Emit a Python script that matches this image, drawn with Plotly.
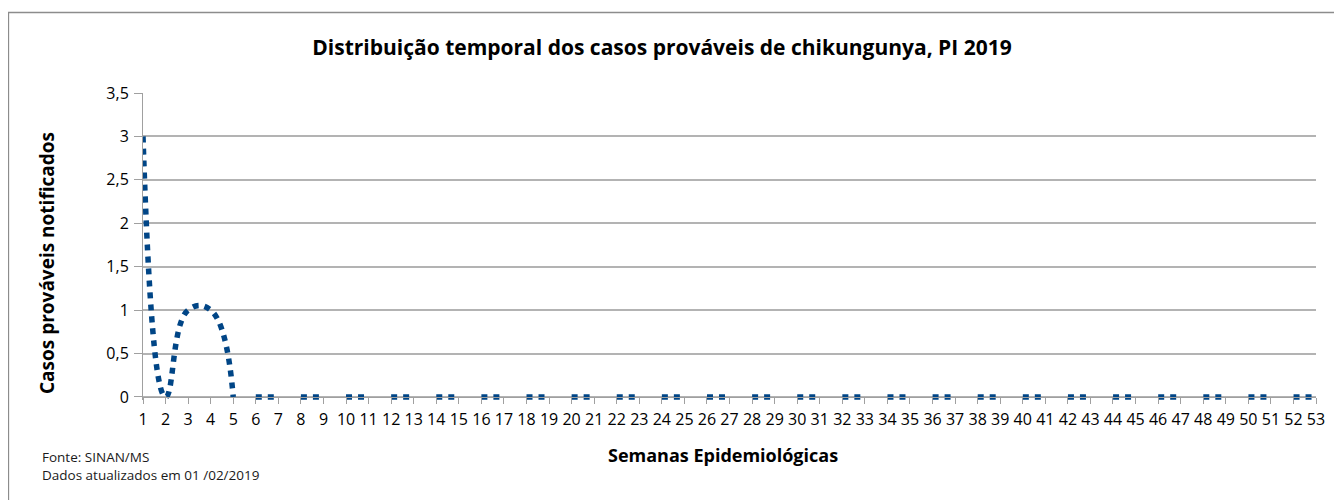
import plotly.graph_objects as go

# ---- data ----
weeks = list(range(1, 54))
cases = [3, 0, 1, 1, 0, 0, 0, 0, 0, 0,
         0, 0, 0, 0, 0, 0, 0, 0, 0, 0,
         0, 0, 0, 0, 0, 0, 0, 0, 0, 0,
         0, 0, 0, 0, 0, 0, 0, 0, 0, 0,
         0, 0, 0, 0, 0, 0, 0, 0, 0, 0,
         0, 0, 0]
y_ticks = [0, 0.5, 1, 1.5, 2, 2.5, 3, 3.5]

title = "Distribuição temporal dos casos prováveis de chikungunya, PI 2019"
y_title = "Casos prováveis notificados"
x_title = "Semanas Epidemiológicas"
footnote = "Fonte: SINAN/MS<br>Dados atualizados em 01 /02/2019"

# ---- layout geometry (page pixels; the page body has an 8px margin) ----
W, H = 1342, 500
OX, OY = 8, 8
L, R, T, B = 143, 26, 93, 100
PW, PH = W - L - R, H - T - B
YMIN, YMAX = -0.035, 3.5

def px_x(p):
    return (p - L) / PW

def px_y(p):
    return (H - B - p) / PH

COLOR = "#004586"
GRID = "#b3b3b3"
AXIS = "#a0a0a0"
FONT = "Open Sans"

# smooth part up to the first zero after the last non-zero week,
# flat part drawn from there on
last_nz = max(i for i, v in enumerate(cases) if v != 0)
cut = last_nz + 1
week_px = PW / (weeks[-1] - weeks[0])

fig = go.Figure()
fig.add_trace(go.Scatter(
    x=weeks[:cut + 1], y=cases[:cut + 1], mode="lines",
    line=dict(color=COLOR, width=5.5, shape="spline", smoothing=1.3,
              dash="6px,6px"),
    hoverinfo="skip", showlegend=False))
fig.add_trace(go.Scatter(
    x=weeks[cut:], y=cases[cut:], mode="lines",
    line=dict(color=COLOR, width=5.5,
              dash="0px,%.2fpx,6px,6px,6px,%.2fpx" % (week_px, week_px - 18)),
    hoverinfo="skip", showlegend=False))

FW, FH = W - OX, H - OY
fig.update_layout(
    width=FW, height=FH, autosize=False,
    margin=dict(l=L - OX, r=R, t=T - OY, b=B, autoexpand=False),
    paper_bgcolor="white", plot_bgcolor="white",
    separators=", ",
    font=dict(family=FONT, color="#000000"),
    title=dict(text="<b>%s</b>" % title, xref="container", yref="container",
               x=(662 - OX) / FW, y=1 - (48 - OY) / FH,
               xanchor="center", yanchor="middle",
               font=dict(family=FONT, size=21, color="#000000")),
    xaxis=dict(range=[weeks[0], weeks[-1]], tickmode="array", tickvals=weeks,
               ticktext=[str(w) for w in weeks], tickangle=0,
               ticks="outside", ticklen=6, tickcolor=AXIS, tickwidth=1,
               showline=True, linecolor=AXIS, linewidth=1,
               showgrid=False, zeroline=False, automargin=False,
               ticklabelstandoff=2,
               anchor="free", position=-YMIN / (YMAX - YMIN),
               tickfont=dict(family=FONT, size=16, color="#000000")),
    yaxis=dict(range=[YMIN, YMAX], tickmode="array", tickvals=y_ticks,
               ticks="outside", ticklen=8, tickcolor=AXIS, tickwidth=1,
               showline=True, linecolor=AXIS, linewidth=1, automargin=False,
               ticklabelstandoff=2,
               showgrid=True, gridcolor=GRID, gridwidth=1.5, zeroline=False,
               tickfont=dict(family=FONT, size=16, color="#000000")),
    shapes=[dict(type="rect", xref="paper", yref="paper",
                 x0=px_x(8.5), x1=px_x(1360), y0=px_y(12.5), y1=px_y(520),
                 line=dict(color="#8c8c8c", width=1.3), fillcolor="rgba(0,0,0,0)",
                 layer="below")],
    annotations=[
        dict(text="<b>%s</b>" % y_title, xref="paper", yref="paper",
             x=px_x(47), y=px_y(263), textangle=-90, showarrow=False,
             xanchor="center", yanchor="middle",
             font=dict(family=FONT, size=19, color="#000000")),
        dict(text="<b>%s</b>" % x_title, xref="paper", yref="paper",
             x=px_x(723), y=px_y(455), showarrow=False,
             xanchor="center", yanchor="middle",
             font=dict(family=FONT, size=18, color="#000000")),
        dict(text=footnote, xref="paper", yref="paper",
             x=px_x(40), y=px_y(446), showarrow=False, align="left",
             xanchor="left", yanchor="top",
             font=dict(family=FONT, size=13.5, color="#1a1a1a")),
    ],
)

fig.write_html("out.html")
